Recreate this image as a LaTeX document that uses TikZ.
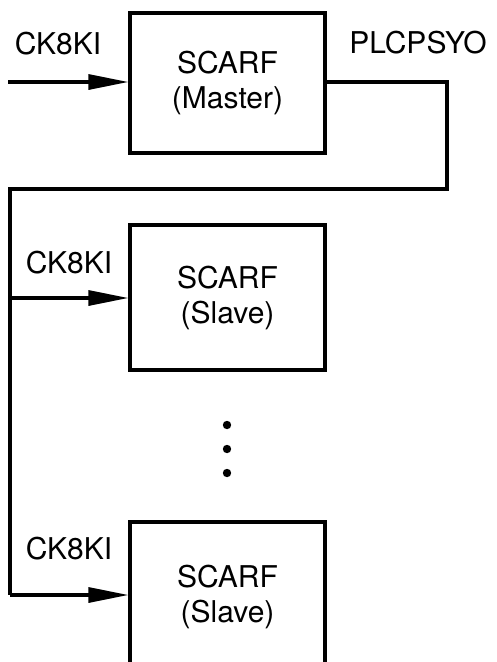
\documentclass[tikz,border=0pt]{standalone}
\usepackage{fontspec}
\setmainfont{TeX Gyre Heros}
\usetikzlibrary{arrows.meta}
\begin{document}
\begin{tikzpicture}[x=1pt,y=1pt,
  scarf/.style={draw,line width=3.2pt,minimum width=195pt,align=center,font=\fontsize{30}{35}\selectfont,inner sep=0pt},
  lbl/.style={font=\fontsize{30}{35}\selectfont,inner sep=0pt},
  wire/.style={line width=3.2pt},
  sig/.style={line width=3.2pt,-{Triangle[length=40pt,width=15pt]}}]
\useasboundingbox (0,0) rectangle (497,-662);
\clip (0,0) rectangle (497,-662);
\node[scarf,minimum height=140pt] (m) at (227.5,-83) {SCARF\\(Master)};
\node[scarf,minimum height=145pt] (s1) at (227.5,-297.5) {SCARF\\(Slave)};
\node[scarf,minimum height=150pt] (s2) at (227.5,-597) {SCARF\\(Slave)};
\node[lbl] (l0) at (58,-44) {CK8KI};
\node[lbl] (lo) at (418,-43) {PLCPSYO};
\node[lbl] (l1) at (69,-263) {CK8KI};
\node[lbl] (l2) at (69,-549) {CK8KI};
\coordinate (in) at (8,-82);
\coordinate (c1) at (447,-82);
\coordinate (c2) at (447,-189);
\coordinate (c3) at (10,-189);
\coordinate (b1) at (10,-298);
\coordinate (b2) at (10,-595);
\draw[sig] (in) -- (in -| m.west);
\draw[wire,line join=miter] (c1 -| m.east) -- (c1) -- (c2) -- (c3) -- (b2);
\draw[sig] (b1) -- (b1 -| s1.west);
\draw[sig] (b2) -- (b2 -| s2.west);
\foreach \yy/\nm in {425/d1,449/d2,473/d3}
  \fill (227,-\yy) circle (4.2pt) coordinate (\nm);
\end{tikzpicture}
\end{document}
